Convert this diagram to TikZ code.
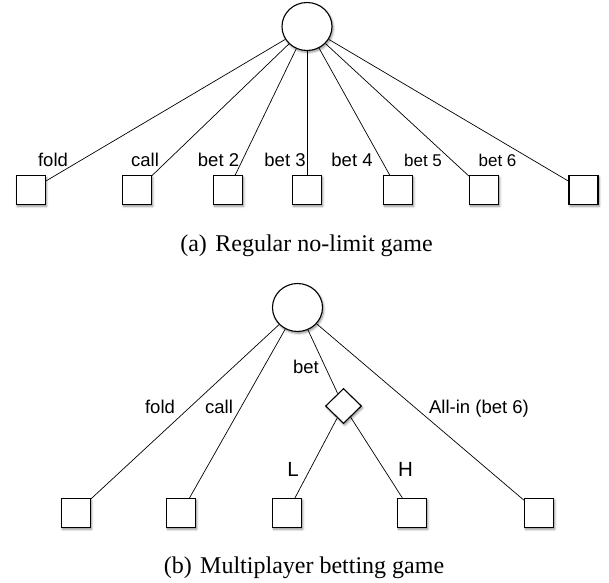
\documentclass[tikz,border=0pt]{standalone}
\usepackage{fontspec}
\setmainfont{Liberation Serif}
\newfontfamily\labfont{Liberation Sans}
\usetikzlibrary{shapes.geometric,shadows.blur}
\begin{document}
\begin{tikzpicture}[x=1pt,y=-1pt,
  edge/.style={line width=0.7pt, black},
  softshadow/.style={blur shadow={shadow xshift=1.2pt, shadow yshift=-1.8pt, shadow blur steps=6, shadow blur radius=2.2pt, shadow opacity=45}},
  leaf/.style={draw, line width=1.1pt, fill=white, minimum size=29pt, inner sep=0pt, softshadow},
  chance/.style={draw, ellipse, line width=1.1pt, fill=white, minimum width=50pt, minimum height=48pt, inner sep=0pt, softshadow},
  decision/.style={draw, diamond, line width=1.1pt, fill=white, minimum width=36pt, minimum height=35pt, inner sep=0pt, softshadow},
  lab/.style={font=\labfont\fontsize{18.5}{20}\selectfont, anchor=base, inner sep=0pt},
  labsmall/.style={font=\labfont\fontsize{17}{19}\selectfont, anchor=base, inner sep=0pt},
  labbig/.style={font=\labfont\fontsize{20.5}{22}\selectfont, anchor=base, inner sep=0pt},
  captext/.style={font=\fontsize{24}{28}\selectfont, anchor=base, inner sep=0pt}
]
\useasboundingbox (0,0) rectangle (609,582);

% ---------- (a) ----------
\node[chance] (ra) at (307,26.5) {};
\node[leaf] (a1) at (30.7,190) {};
\node[leaf] (a2) at (137,190) {};
\node[leaf] (a3) at (228,190) {};
\node[leaf] (a4) at (307,190) {};
\node[leaf] (a5) at (398,190) {};
\node[leaf] (a6) at (484,190) {};
\node[leaf] (a7) at (583.5,190) {};
\foreach \i in {1,...,7} {\draw[edge] (ra) -- (a\i);}

\node[lab] (lfold) at (53,166) {fold};
\node[lab] (lcall) at (145,166) {call};
\node[lab] (lb2) at (218.5,166) {bet 2};
\node[lab] (lb3) at (285,166) {bet 3};
\node[lab] (lb4) at (352,166) {bet 4};
\node[labsmall] (lb5) at (423,166) {bet 5};
\node[labsmall] (lb6) at (497.5,166) {bet 6};

\node[captext] (capa) at (306.5,251.5) {(a)\hspace{0.35em}Regular no-limit game};

% ---------- (b) ----------
\node[chance] (rb) at (297.5,307.5) {};
\node[decision] (dm) at (343.5,406) {};
\node[leaf] (b1) at (75.7,513) {};
\node[leaf] (b2) at (181,513) {};
\node[leaf] (b3) at (287,513) {};
\node[leaf] (b4) at (412,513) {};
\node[leaf] (b5) at (539,513) {};
\draw[edge] (rb) -- (b1);
\draw[edge] (rb) -- (b2);
\draw[edge] (rb) -- (dm);
\draw[edge] (dm) -- (b3);
\draw[edge] (dm) -- (b4);
\draw[edge] (rb) -- (b5);

\node[lab] (mfold) at (160,413) {fold};
\node[lab] (mcall) at (219,413) {call};
\node[lab] (mbet) at (306,373) {bet};
\node[lab] (mall) at (479,413) {All-in (bet 6)};
\node[labbig] (mL) at (293,476.5) {L};
\node[labbig] (mH) at (405.5,476.5) {H};

\node[captext] (capb) at (304,573.5) {(b)\hspace{0.35em}Multiplayer betting game};
\end{tikzpicture}
\end{document}
